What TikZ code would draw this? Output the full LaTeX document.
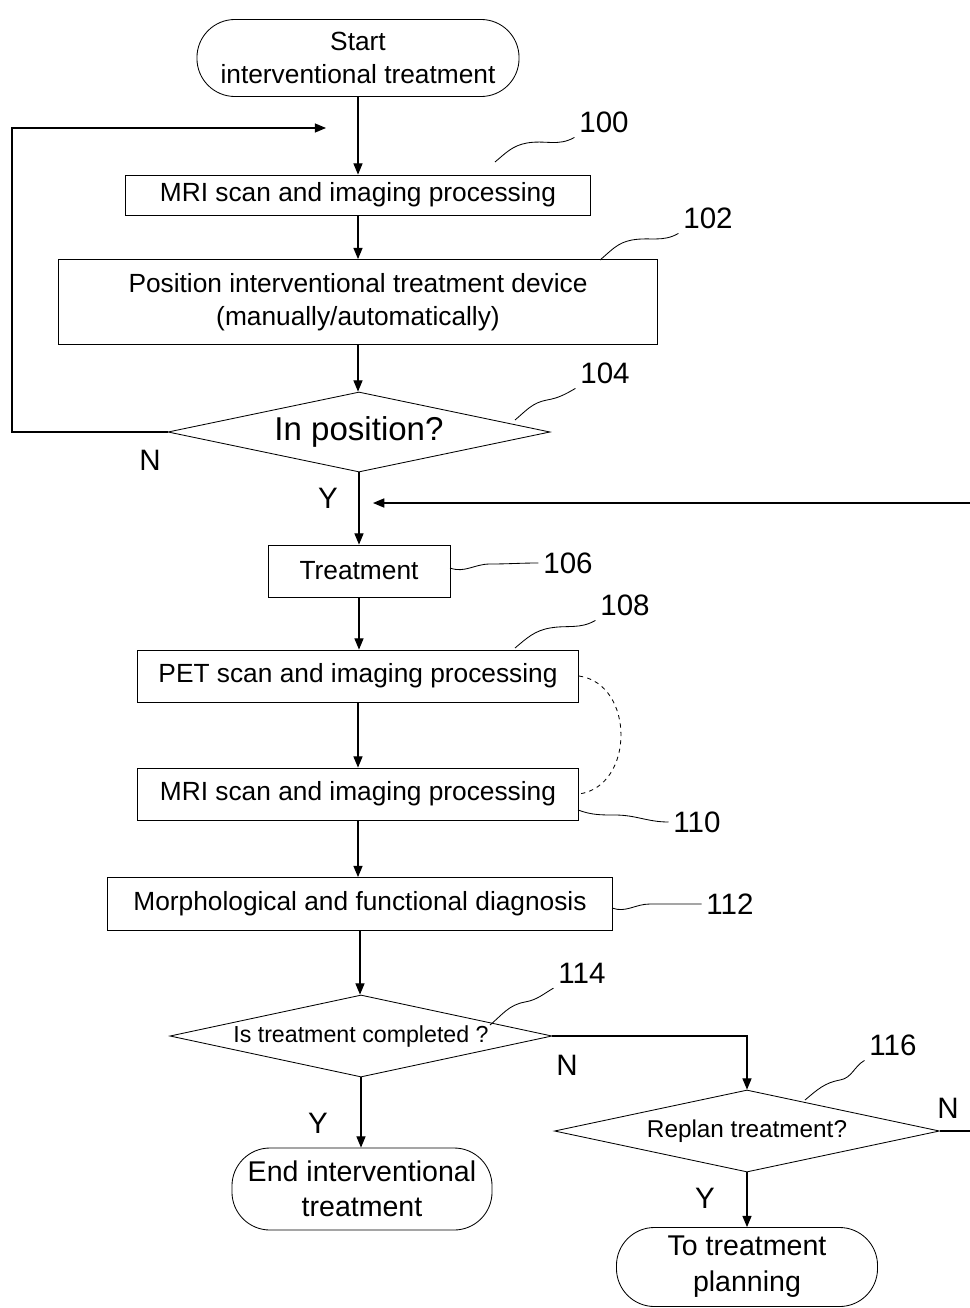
\documentclass[tikz,border=0pt]{standalone}
\usepackage{fontspec}
\setmainfont{Liberation Sans}
\usetikzlibrary{shapes.geometric,arrows.meta}

\tikzset{
	box/.style={draw, line width=0.6pt, align=center, inner sep=2pt, font=\fontsize{18.7}{23.4}\selectfont},
	term/.style={box, rounded corners=9.5mm},
	dec/.style={draw, diamond, aspect=4.7, line width=0.6pt, inner sep=0pt, align=center, font=\fontsize{17.3}{20}\selectfont},
	arr/.style={line width=0.8pt, -{Triangle[length=8pt,width=6.5pt]}},
	lead/.style={line width=0.6pt},
	num/.style={font=\fontsize{21}{24}\selectfont},
	yn/.style={font=\fontsize{21}{24}\selectfont}
}

\begin{document}
\begin{tikzpicture}[x=0.025cm,y=-0.025cm]
	\useasboundingbox (0,0) rectangle (970,1308);

	% main column
	\node[term, minimum width=8.05cm, minimum height=1.925cm] (start) at (358,58) {Start\\interventional treatment};
	\node[box, minimum width=11.625cm, minimum height=1cm] (mri1) at (358,195) {MRI scan and imaging processing};
	\node[box, minimum width=14.975cm, minimum height=2.125cm] (pos) at (358,302) {Position interventional treatment device\\(manually/automatically)};
	\node[dec, minimum width=9.55cm, minimum height=2cm, font=\fontsize{23.5}{27}\selectfont] (inpos) at (359,432) {In position?};
	\node[box, minimum width=4.55cm, minimum height=1.3cm] (treat) at (359,571) {Treatment};
	\node[box, minimum width=11.025cm, minimum height=1.3cm] (pet) at (358,676) {PET scan and imaging processing};
	\node[box, minimum width=11.025cm, minimum height=1.3cm] (mri2) at (358,794) {MRI scan and imaging processing};
	\node[box, minimum width=12.625cm, minimum height=1.325cm] (diag) at (360,904) {Morphological and functional diagnosis};
	\node[dec, minimum width=9.55cm, minimum height=2.05cm, font=\fontsize{16.5}{20}\selectfont] (done) at (361,1036) {Is treatment completed ?};
	\node[term, minimum width=6.5cm, minimum height=2.05cm, font=\fontsize{20.3}{25}\selectfont] (end) at (362,1189) {End interventional\\treatment};

	% replanning branch
	\node[dec, minimum width=9.625cm, minimum height=2.05cm] (replan) at (747,1131) {Replan treatment?};
	\node[term, minimum width=6.525cm, minimum height=1.975cm, font=\fontsize{20.3}{25.5}\selectfont] (plan) at (747,1267) {To treatment\\planning};

	\foreach \a/\b in {start/mri1, mri1/pos, pos/inpos, inpos/treat, treat/pet, pet/mri2, mri2/diag, diag/done, done/end, replan/plan}
	{
		\draw[arr] (\a.south) -- (\a.south |- \b.north);
	}

	% loop back and return
	\coordinate (loopend) at (326,128);
	\coordinate (retin) at (970,503);
	\coordinate (retend) at (373,503);
	\coordinate (repout) at (970,1131);
	\draw[arr] (inpos.west) -- (12,432) |- (loopend);
	\draw[arr] (retin) -- (retend);
	\draw[arr] (done.east) -| (replan.north);
	\draw[line width=0.8pt] (replan.east) -- (repout);
	\draw[line width=0.6pt, dashed] (pet.east) .. controls +(56,8) and +(56,-8) .. (mri2.east);

	% Y / N
	\node[yn] (n1) at (150,460) {N};
	\node[yn] (y1) at (328,498) {Y};
	\node[yn] (n2) at (567,1065) {N};
	\node[yn] (y2) at (318,1123) {Y};
	\node[yn] (n3) at (948,1108) {N};
	\node[yn] (y3) at (705,1198) {Y};

	% reference numerals
	\foreach \n/\x/\y in {100/604/122, 102/708/218, 104/605/373, 106/568/563, 108/625/605, 110/697/822, 112/730/904, 114/582/973, 116/893/1045}
	{
		\node[num] (l\n) at (\x,\y) {\n};
	}
	\draw[lead] (495,162) to[out=40,in=190] (527,143) to[out=10,in=210] (l100.south west);
	\draw[lead] (600,260) to[out=40,in=190] (632,240) to[out=10,in=210] (l102.south west);
	\draw[lead] (515,420) to[out=40,in=190] (547,400) to[out=10,in=210] (l104.south west);
	\draw[lead] (450,568) to[out=-20,in=180] (490,564) to[out=0,in=180] (l106.west);
	\draw[lead] (515,648) to[out=40,in=190] (550,628) to[out=10,in=210] (l108.south west);
	\draw[lead] (578,810) to[out=-20,in=180] (615,815) to[out=0,in=180] (l110.west);
	\draw[lead] (612,908) to[out=-20,in=180] (650,904) to[out=0,in=180] (l112.west);
	\draw[lead] (490,1025) to[out=40,in=190] (525,1002) to[out=10,in=210] (l114.south west);
	\draw[lead] (805,1100) to[out=40,in=190] (840,1080) to[out=10,in=210] (l116.south west);
\end{tikzpicture}
\end{document}
